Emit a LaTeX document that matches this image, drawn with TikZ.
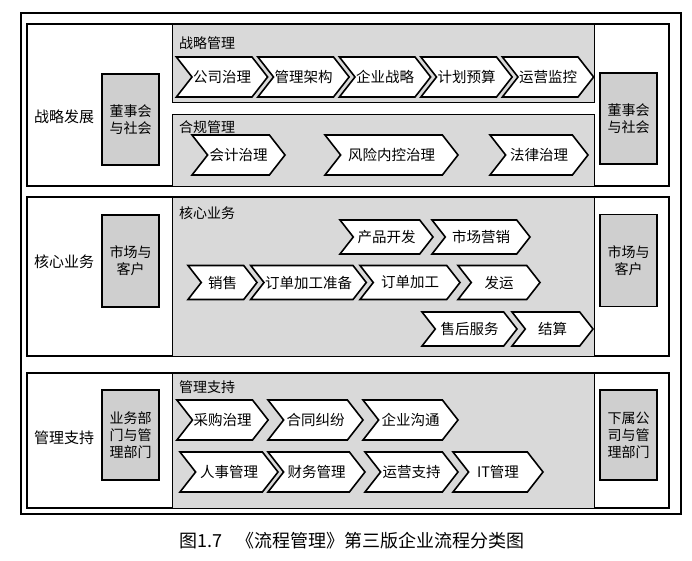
\documentclass[tikz,border=0pt]{standalone}
\usepackage{fontspec}
\setmainfont{Noto Sans CJK SC}
\usetikzlibrary{shapes.symbols}
\definecolor{panelgrey}{HTML}{D9D9D9}
\definecolor{boxgrey}{HTML}{CFCFCF}
\tikzset{
  outerframe/.style={draw=black, line width=1.5pt},
  bandframe/.style={draw=black, line width=1.2pt},
  panel/.style={draw=black, fill=panelgrey, line width=0.9pt},
  sidebox/.style={draw=black, fill=boxgrey, line width=1.1pt, minimum width=57pt, align=center, inner sep=2pt, font=\fontsize{14}{17}\selectfont},
  chev/.style={signal, signal to=east, signal from=west, signal pointer angle=104, draw=black, fill=white, line width=1.6pt, inner xsep=1pt, inner ysep=0pt, font=\fontsize{14.5}{17}\selectfont},
  paneltitle/.style={anchor=west, inner sep=0pt, font=\fontsize{14}{17}\selectfont},
  rowlabel/.style={inner sep=0pt, font=\fontsize{15}{18}\selectfont},
}
\begin{document}
\begin{tikzpicture}[x=1pt, y=-1pt]
  \useasboundingbox[fill=white] (0,0) rectangle (692,561);
  % frames
  \draw[outerframe] (21,13) rectangle (681,514);
  \draw[bandframe] (27,24) rectangle (669,186);
  \draw[bandframe] (27,197) rectangle (669,356);
  \draw[bandframe] (27,373) rectangle (669,508);
  % grey panels
  \draw[panel] (172,24) rectangle (594,102);
  \draw[panel] (172,114) rectangle (594,186);
  \draw[panel] (172,197) rectangle (594,356);
  \draw[panel] (172,373) rectangle (594,508);
  \node[paneltitle] (t1) at (179,43) {战略管理};
  \node[paneltitle] (t2) at (179,127) {合规管理};
  \node[paneltitle] (t3) at (179,213) {核心业务};
  \node[paneltitle] (t4) at (179,387) {管理支持};
  % row labels
  \node[rowlabel] (l1) at (64,117) {战略发展};
  \node[rowlabel] (l2) at (64,262) {核心业务};
  \node[rowlabel] (l3) at (64,438) {管理支持};
  % side boxes
  \node[sidebox, minimum height=91pt] (in1) at (130.5,119.5) {董事会\\与社会};
  \node[sidebox, minimum height=91pt] (out1) at (628.5,118.5) {董事会\\与社会};
  \node[sidebox, minimum height=92pt] (in2) at (130.5,261) {市场与\\客户};
  \node[sidebox, minimum height=92pt] (out2) at (628.5,260.5) {市场与\\客户};
  \node[sidebox, minimum height=90pt] (in3) at (130.5,435) {业务部\\门与管\\理部门};
  \node[sidebox, minimum height=90pt] (out3) at (628.5,435) {下属公\\司与管\\理部门};
  % strategy row
  \node[chev, minimum width=90pt, minimum height=40pt] (gov) at (222,77) {公司治理};
  \node[chev, minimum width=90pt, minimum height=40pt] (arch) at (303.5,77) {管理架构};
  \node[chev, minimum width=90pt, minimum height=40pt] (strat) at (385,77) {企业战略};
  \node[chev, minimum width=90pt, minimum height=40pt] (budget) at (466.5,77) {计划预算};
  \node[chev, minimum width=90pt, minimum height=40pt] (monitor) at (548,77) {运营监控};
  % compliance row
  \node[chev, minimum width=93pt, minimum height=40pt] (acct) at (238.5,155) {会计治理};
  \node[chev, minimum width=133pt, minimum height=40pt] (risk) at (391.5,155) {风险内控治理};
  \node[chev, minimum width=98pt, minimum height=40pt] (legal) at (539,155) {法律治理};
  % core business
  \node[chev, minimum width=93pt, minimum height=34pt] (prod) at (386.5,237) {产品开发};
  \node[chev, minimum width=98pt, minimum height=34pt] (mkt) at (481,237) {市场营销};
  \node[chev, minimum width=69pt, minimum height=34pt] (sales) at (222.5,282.5) {销售};
  \node[chev, minimum width=113pt, minimum height=34pt] (prep) at (308.5,282.5) {订单加工准备};
  \node[chev, minimum width=100pt, minimum height=34pt] (order) at (410,282.5) {订单加工};
  \node[chev, minimum width=82pt, minimum height=34pt] (ship) at (499,282.5) {发运};
  \node[chev, minimum width=95pt, minimum height=34pt] (after) at (469.5,329) {售后服务};
  \node[chev, minimum width=81pt, minimum height=34pt] (settle) at (552.5,329) {结算};
  % management support
  \node[chev, minimum width=89pt, minimum height=40pt] (purch) at (222.5,420) {采购治理};
  \node[chev, minimum width=95pt, minimum height=40pt] (contract) at (315.5,420) {合同纠纷};
  \node[chev, minimum width=95pt, minimum height=40pt] (comm) at (410.5,420) {企业沟通};
  \node[chev, minimum width=98pt, minimum height=40pt] (hr) at (229,472) {人事管理};
  \node[chev, minimum width=97pt, minimum height=40pt] (fin) at (316.5,472) {财务管理};
  \node[chev, minimum width=93pt, minimum height=40pt] (ops) at (411.5,472) {运营支持};
  \node[chev, minimum width=90pt, minimum height=40pt] (itm) at (498,472) {IT管理};
  % caption
  \node[anchor=west, inner sep=0pt, font=\fontsize{18}{21}\selectfont] (cap) at (179,541) {图1.7\hspace{0.8em}《流程管理》第三版企业流程分类图};
\end{tikzpicture}
\end{document}
